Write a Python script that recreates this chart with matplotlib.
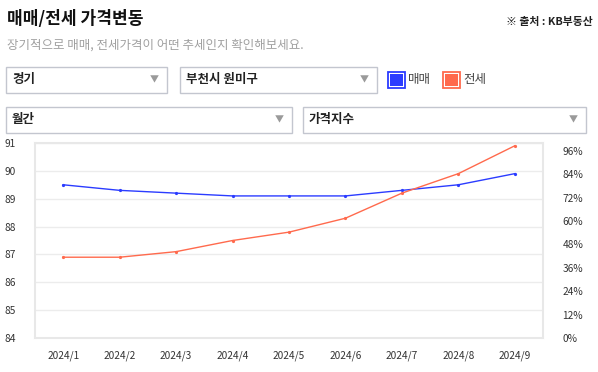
import matplotlib
matplotlib.use("Agg")
import matplotlib.pyplot as plt
from matplotlib.patches import Rectangle

plt.rcParams["font.family"] = ["Noto Sans CJK KR", "DejaVu Sans"]

months = ["2024/1", "2024/2", "2024/3", "2024/4", "2024/5",
          "2024/6", "2024/7", "2024/8", "2024/9"]
sale = [89.5, 89.3, 89.2, 89.1, 89.1, 89.1, 89.3, 89.5, 89.9]
jeonse = [86.9, 86.9, 87.1, 87.5, 87.8, 88.3, 89.2, 89.9, 90.9]
left_ticks = [84, 85, 86, 87, 88, 89, 90, 91]
right_ticks = [0, 12, 24, 36, 48, 60, 72, 84, 96]

BLUE = "#2b3cff"
ORANGE = "#ff6a4d"
W, H = 598, 372

fig = plt.figure(figsize=(W / 100, H / 100), dpi=100)


def fx(px):
    return px / W


def fy(py):
    return 1 - py / H


def box(x0, y0, x1, y1, label):
    fig.patches.append(Rectangle((fx(x0), fy(y1)), fx(x1 - x0), (y1 - y0) / H,
                                 transform=fig.transFigure, facecolor="white",
                                 edgecolor="#c3c6cf", lw=1))
    fig.text(fx(x0 + 6), fy((y0 + y1) / 2), label, fontsize=9, fontweight="bold",
             color="#222222", va="center", ha="left")
    fig.text(fx(x1 - 13), fy((y0 + y1) / 2), "▼", fontsize=6.5, color="#9a9a9a",
             va="center", ha="center")


# header
fig.text(fx(7), fy(19), "매매/전세 가격변동", fontsize=12.3, fontweight="bold",
         color="#111111", va="center")
fig.text(fx(593), fy(22), "※ 출처 : KB부동산", fontsize=7.8, fontweight="bold",
         color="#222222", va="center", ha="right")
fig.text(fx(7), fy(45), "장기적으로 매매, 전세가격이 어떤 추세인지 확인해보세요.",
         fontsize=9, color="#a0a0a0", va="center")

# dropdowns
box(6, 67, 167, 93, "경기")
box(180, 67, 377, 93, "부천시 원미구")
box(6, 107, 292, 133, "월간")
box(303, 107, 586, 133, "가격지수")

# legend
for x0, col, name in [(388, BLUE, "매매"), (443, ORANGE, "전세")]:
    fig.patches.append(Rectangle((fx(x0), fy(88)), fx(17), 16 / H,
                                 transform=fig.transFigure, facecolor="white",
                                 edgecolor=col, lw=1.3))
    fig.patches.append(Rectangle((fx(x0 + 2), fy(86)), fx(13), 12 / H,
                                 transform=fig.transFigure, facecolor=col,
                                 edgecolor="none"))
    fig.text(fx(x0 + 20), fy(80), name, fontsize=9, color="#444444", va="center")

# chart
ax = fig.add_axes([fx(35), fy(338), fx(543 - 35), (338 - 143) / H])
x = range(len(months))
ax.plot(x, sale, color=BLUE, lw=1, marker="o", ms=1.3, zorder=3)
ax.plot(x, jeonse, color=ORANGE, lw=1, marker="o", ms=1.3, zorder=3)
ax.set_xlim(-0.5, len(months) - 0.5)
ax.set_ylim(84, 91)
ax.set_yticks(left_ticks)
ax.set_xticks(list(x))
ax.set_xticklabels(months)
ax.grid(axis="y", color="#ececec", lw=1)
ax.set_axisbelow(True)
for s in ax.spines.values():
    s.set_color("#e8e8e8")
    s.set_linewidth(1.5)
ax.tick_params(length=0, labelsize=7.3, colors="#333333")
ax.tick_params(axis="y", pad=14)
ax.tick_params(axis="x", pad=9)

ax2 = ax.twinx()
ax2.set_ylim(0, 100)
ax2.set_yticks(right_ticks)
ax2.set_yticklabels([f"{t}%" for t in right_ticks])
ax2.tick_params(length=0, labelsize=7.3, colors="#333333", pad=14)
for s in ax2.spines.values():
    s.set_visible(False)

fig.savefig("out.png", dpi=100)
